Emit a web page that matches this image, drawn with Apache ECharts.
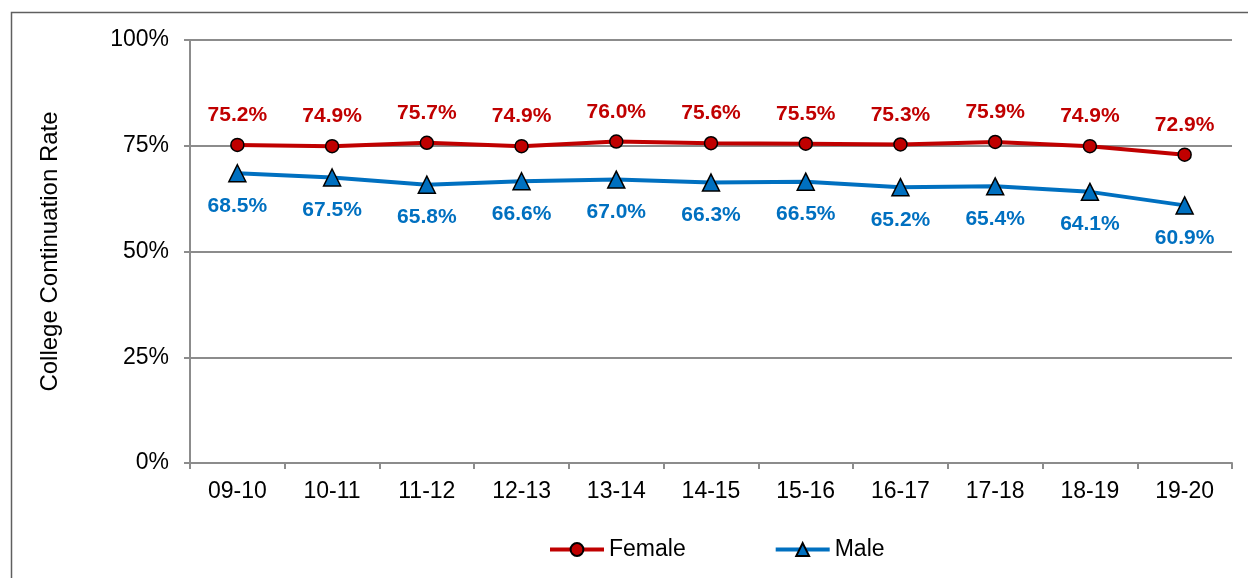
<!DOCTYPE html>
<html>
<head>
<meta charset="utf-8">
<script src="https://cdn.jsdelivr.net/npm/echarts@6/dist/echarts.min.js"></script>
<style>
  html, body { margin: 0; padding: 0; background: #fff; }
  #chart { width: 1248px; height: 578px; }
</style>
</head>
<body>
<div id="chart"></div>
<script>
// School years on the category axis
const years = ['09-10', '10-11', '11-12', '12-13', '13-14', '14-15', '15-16', '16-17', '17-18', '18-19', '19-20'];
// College continuation rates (%)
const female = [75.2, 74.9, 75.7, 74.9, 76.0, 75.6, 75.5, 75.3, 75.9, 74.9, 72.9];
const male = [68.5, 67.5, 65.8, 66.6, 67.0, 66.3, 66.5, 65.2, 65.4, 64.1, 60.9];
// Value axis ticks
const yTicks = [0, 25, 50, 75, 100];

const FONT = '"Liberation Sans", Arial, sans-serif';
const RED = '#C00000';
const BLUE = '#0070C0';
const AXIS = '#8c8c8c';

const chart = echarts.init(document.getElementById('chart'), null, { renderer: 'canvas' });

chart.setOption({
  backgroundColor: '#fff',
  animation: false,
  textStyle: { fontFamily: FONT },
  graphic: [{
    type: 'rect',
    shape: { x: 11.5, y: 12.5, width: 1260, height: 600 },
    style: { fill: 'none', stroke: '#5f5f5f', lineWidth: 1.5 },
    silent: true
  }],
  grid: { left: 190, right: 16, top: 40, bottom: 115, containLabel: false },
  legend: {
    left: 543,
    top: 533,
    itemWidth: 54,
    itemHeight: 16,
    itemGap: 88,
    lineStyle: { width: 4 },
    textStyle: { fontFamily: FONT, fontSize: 23, color: '#000' },
    data: ['Female', 'Male']
  },
  xAxis: {
    type: 'category',
    data: years,
    boundaryGap: true,
    axisLine: { lineStyle: { color: AXIS, width: 2 } },
    axisTick: { show: true, length: 6, lineStyle: { color: AXIS, width: 2 } },
    axisLabel: { color: '#000', fontSize: 23, fontFamily: FONT, margin: 17 }
  },
  yAxis: {
    type: 'value',
    min: yTicks[0],
    max: yTicks[yTicks.length - 1],
    interval: 25,
    name: 'College Continuation Rate',
    nameLocation: 'middle',
    nameGap: 128,
    nameTextStyle: { color: '#000', fontSize: 24, fontFamily: FONT },
    axisLine: { show: true, lineStyle: { color: AXIS, width: 2 } },
    axisTick: { show: true, length: 6, lineStyle: { color: AXIS, width: 2 } },
    splitLine: { show: true, lineStyle: { color: AXIS, width: 2 } },
    axisLabel: { color: '#000', fontSize: 23, fontFamily: FONT, margin: 21, formatter: '{value}%' }
  },
  series: [
    {
      name: 'Female',
      type: 'line',
      data: female,
      symbol: 'circle',
      symbolSize: 13,
      lineStyle: { color: RED, width: 4 },
      itemStyle: { color: RED, borderColor: '#000', borderWidth: 1.5 },
      label: {
        show: true,
        position: 'top',
        distance: 12,
        color: RED,
        fontSize: 21,
        fontWeight: 'bold',
        fontFamily: FONT,
        formatter: p => p.value.toFixed(1) + '%'
      },
      z: 3
    },
    {
      name: 'Male',
      type: 'line',
      data: male,
      symbol: 'triangle',
      symbolSize: 17,
      lineStyle: { color: BLUE, width: 4 },
      itemStyle: { color: BLUE, borderColor: '#000', borderWidth: 1.5 },
      label: {
        show: true,
        position: 'bottom',
        distance: 13,
        color: BLUE,
        fontSize: 21,
        fontWeight: 'bold',
        fontFamily: FONT,
        formatter: p => p.value.toFixed(1) + '%'
      },
      z: 2
    }
  ]
});
</script>
</body>
</html>
